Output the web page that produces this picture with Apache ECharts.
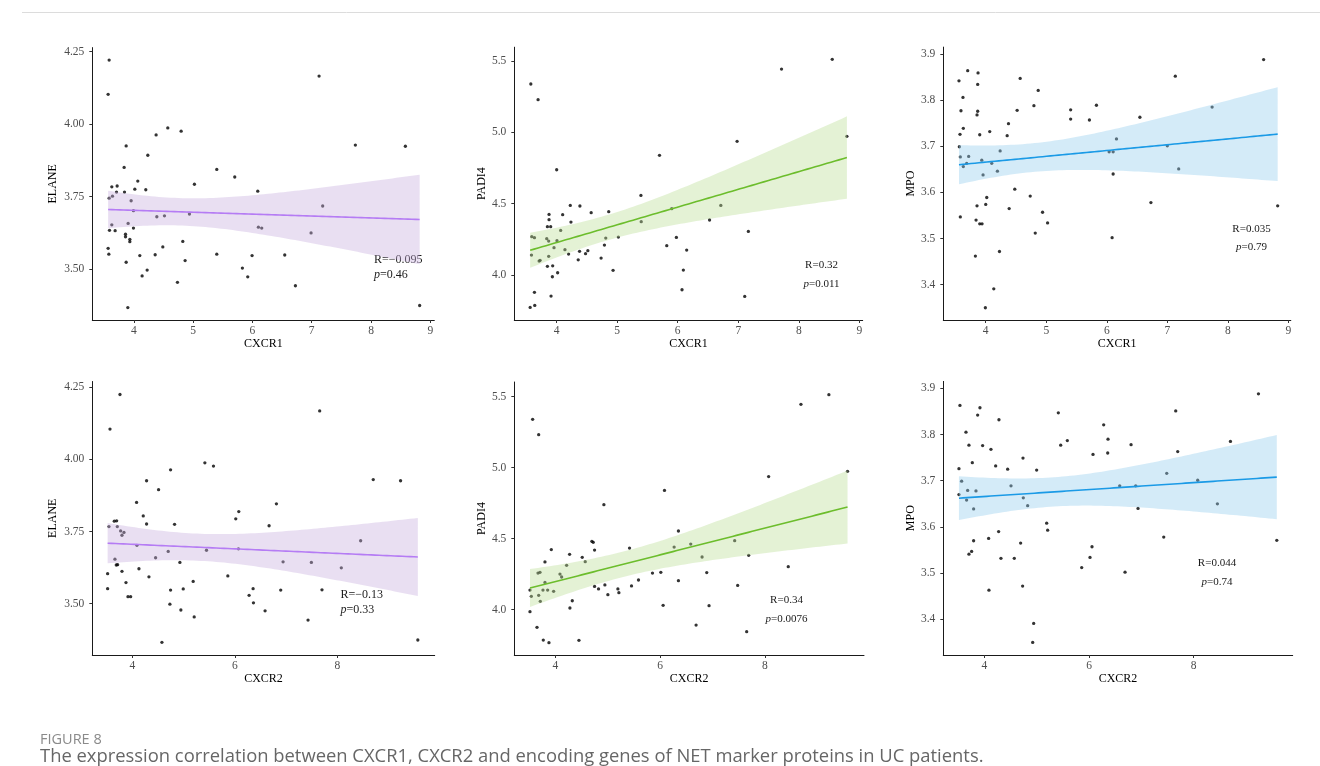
<!DOCTYPE html>
<html><head><meta charset="utf-8">
<script src="https://cdn.jsdelivr.net/npm/echarts@6/dist/echarts.min.js"></script>
<style>html,body{margin:0;padding:0;background:#fff}#c{width:1320px;height:766px}</style>
</head><body><div id="c"></div>
<script>
// ---------- data ----------
const elaneVsCxcr1 = [[3.584,4.221],[3.567,4.103],[4.573,3.987],[4.798,3.976],[4.376,3.963],[3.871,3.925],[4.236,3.893],[3.837,3.851],[5.399,3.844],[5.702,3.818],[4.067,3.804],[5.022,3.793],[3.629,3.784],[3.719,3.787],[3.708,3.766],[3.843,3.766],[4.017,3.776],[4.202,3.774],[6.090,3.769],[3.584,3.745],[3.640,3.752],[3.955,3.736],[3.994,3.702],[4.388,3.681],[4.517,3.684],[4.938,3.690],[3.629,3.653],[3.904,3.658],[3.994,3.642],[6.101,3.645],[6.157,3.642],[3.590,3.634],[3.685,3.633],[3.860,3.621],[3.860,3.612],[3.933,3.603],[3.933,3.595],[4.826,3.596],[3.567,3.572],[4.489,3.577],[3.579,3.552],[4.101,3.547],[4.360,3.550],[5.399,3.552],[5.994,3.547],[3.871,3.524],[4.865,3.530],[4.225,3.497],[4.140,3.477],[5.831,3.504],[5.921,3.474],[4.736,3.455],[3.899,3.368],[7.124,4.166],[7.736,3.928],[8.579,3.924],[7.185,3.718],[6.989,3.625],[6.545,3.549],[6.725,3.443],[8.820,3.375]];
const padi4VsCxcr1 = [[3.573,5.339],[3.693,5.229],[4.000,4.738],[5.699,4.839],[5.392,4.558],[4.225,4.488],[4.384,4.484],[3.874,4.425],[4.099,4.423],[4.570,4.437],[4.860,4.444],[3.874,4.388],[4.236,4.371],[5.397,4.374],[3.847,4.339],[3.901,4.339],[4.066,4.313],[3.589,4.269],[3.633,4.262],[5.019,4.266],[3.836,4.255],[3.868,4.238],[4.005,4.241],[4.811,4.259],[5.901,4.465],[3.956,4.192],[4.137,4.178],[4.789,4.210],[5.819,4.206],[5.978,4.264],[3.584,4.140],[4.197,4.147],[4.378,4.166],[4.515,4.171],[4.477,4.150],[3.710,4.098],[3.726,4.103],[3.868,4.131],[4.356,4.107],[4.734,4.119],[3.847,4.061],[3.934,4.065],[3.929,3.988],[4.016,4.016],[4.932,4.033],[3.633,3.879],[3.907,3.853],[3.562,3.773],[3.638,3.787],[7.715,5.444],[8.553,5.512],[6.981,4.937],[8.795,4.972],[6.712,4.488],[6.526,4.386],[7.167,4.306],[6.148,4.175],[6.093,4.035],[6.071,3.897],[7.107,3.850]];
const mpoVsCxcr1 = [[3.702,3.864],[3.873,3.859],[3.558,3.842],[3.867,3.834],[4.569,3.847],[4.867,3.821],[3.624,3.806],[4.796,3.788],[3.591,3.777],[3.867,3.776],[4.519,3.778],[5.403,3.779],[3.856,3.768],[5.403,3.759],[5.713,3.757],[3.630,3.739],[4.376,3.749],[3.575,3.726],[3.901,3.725],[4.066,3.732],[4.354,3.723],[3.564,3.699],[4.238,3.690],[3.580,3.677],[3.718,3.678],[3.934,3.670],[3.685,3.663],[3.630,3.656],[4.099,3.663],[4.193,3.646],[3.956,3.638],[4.480,3.607],[4.017,3.589],[4.735,3.592],[3.856,3.571],[4.000,3.574],[4.387,3.565],[4.939,3.557],[3.580,3.547],[3.840,3.540],[3.901,3.532],[3.939,3.532],[5.022,3.534],[4.818,3.512],[4.227,3.472],[3.829,3.462],[4.133,3.391],[3.994,3.350],[5.829,3.789],[8.591,3.888],[7.132,3.852],[6.547,3.763],[7.740,3.785],[6.160,3.716],[6.039,3.688],[6.105,3.688],[7.000,3.701],[7.188,3.651],[6.105,3.640],[6.729,3.578],[8.823,3.571],[6.088,3.502]];
const elaneVsCxcr2 = [[3.760,4.225],[3.565,4.105],[5.416,3.988],[5.584,3.977],[4.747,3.964],[4.279,3.926],[4.513,3.895],[4.084,3.851],[4.214,3.804],[4.279,3.776],[4.825,3.775],[6.078,3.819],[6.019,3.794],[3.649,3.786],[3.695,3.787],[3.545,3.767],[3.708,3.767],[3.773,3.752],[3.838,3.747],[3.799,3.737],[4.091,3.702],[4.701,3.681],[5.448,3.685],[6.071,3.690],[4.455,3.659],[3.662,3.654],[3.688,3.634],[3.714,3.635],[4.929,3.643],[4.130,3.621],[3.799,3.612],[3.519,3.604],[4.325,3.593],[5.864,3.596],[5.188,3.577],[3.877,3.573],[3.519,3.552],[4.747,3.547],[4.994,3.551],[6.357,3.552],[3.916,3.524],[3.968,3.524],[6.279,3.529],[6.364,3.503],[4.734,3.498],[4.948,3.478],[5.208,3.454],[6.591,3.475],[4.578,3.366],[6.669,3.770],[7.656,4.168],[8.701,3.930],[9.234,3.926],[6.812,3.846],[8.455,3.718],[6.942,3.645],[7.494,3.643],[8.078,3.624],[6.896,3.547],[7.701,3.548],[7.429,3.443],[9.571,3.374]];
const padi4VsCxcr2 = [[3.568,5.340],[3.683,5.232],[4.927,4.739],[6.083,4.840],[6.349,4.554],[5.416,4.434],[3.924,4.423],[4.749,4.420],[4.724,4.474],[4.698,4.481],[4.273,4.390],[4.514,4.369],[4.571,4.338],[4.216,4.312],[3.803,4.336],[3.708,4.263],[3.670,4.258],[4.089,4.251],[4.121,4.230],[6.267,4.441],[5.854,4.258],[6.013,4.263],[5.587,4.209],[3.803,4.192],[3.517,4.138],[3.765,4.138],[3.854,4.138],[3.968,4.129],[3.543,4.094],[3.683,4.101],[4.749,4.164],[4.946,4.174],[4.825,4.146],[5.194,4.146],[5.213,4.120],[5.003,4.106],[5.454,4.167],[3.714,4.059],[4.324,4.063],[3.517,3.986],[4.279,4.012],[6.057,4.031],[3.651,3.876],[4.451,3.784],[3.771,3.786],[3.879,3.768],[6.349,4.204],[9.219,5.514],[8.686,5.446],[9.575,4.974],[8.070,4.937],[6.584,4.462],[7.422,4.486],[6.800,4.371],[7.689,4.383],[8.444,4.303],[6.889,4.261],[7.479,4.171],[6.933,4.028],[6.686,3.892],[7.651,3.845]];
const mpoVsCxcr2 = [[3.535,3.863],[3.917,3.858],[3.873,3.842],[4.280,3.832],[5.414,3.847],[3.650,3.805],[5.586,3.787],[5.459,3.777],[3.707,3.777],[3.968,3.776],[4.127,3.768],[6.076,3.757],[3.771,3.739],[4.739,3.749],[4.217,3.732],[3.516,3.726],[4.446,3.725],[5.000,3.723],[3.567,3.699],[3.516,3.670],[3.682,3.679],[3.841,3.678],[4.510,3.689],[3.662,3.658],[4.745,3.663],[4.828,3.646],[3.796,3.639],[5.191,3.608],[5.210,3.593],[4.083,3.575],[4.274,3.590],[3.796,3.570],[4.694,3.565],[3.707,3.541],[3.758,3.547],[4.318,3.532],[4.573,3.532],[6.057,3.557],[6.019,3.534],[5.860,3.512],[4.732,3.472],[4.089,3.463],[4.943,3.391],[4.924,3.350],[9.236,3.888],[7.656,3.851],[6.280,3.821],[6.363,3.790],[6.803,3.778],[6.357,3.760],[7.694,3.763],[8.701,3.785],[7.484,3.716],[8.076,3.701],[6.586,3.689],[6.892,3.689],[6.936,3.640],[8.452,3.650],[7.427,3.578],[9.586,3.571],[6.688,3.502]];

const xTicksRow1 = [4, 5, 6, 7, 8, 9];
const xTicksRow2 = [4, 6, 8];
const yTicksElane = [3.50, 3.75, 4.00, 4.25];
const yTicksPadi4 = [4.0, 4.5, 5.0, 5.5];
const yTicksMpo = [3.4, 3.5, 3.6, 3.7, 3.8, 3.9];
const xNames = ['CXCR1', 'CXCR1', 'CXCR1', 'CXCR2', 'CXCR2', 'CXCR2'];
const yNames = ['ELANE', 'PADI4', 'MPO', 'ELANE', 'PADI4', 'MPO'];
const rLabels = ['R=\u22120.095', 'R=0.32', 'R=0.035', 'R=\u22120.13', 'R=0.34', 'R=0.044'];
const pLabels = ['=0.46', '=0.011', '=0.79', '=0.33', '=0.0076', '=0.74'];

// ---------- layout / style ----------
const SERIF = '"Liberation Serif", "Times New Roman", serif';
const SANS = '"Open Sans", "Noto Sans", sans-serif';
const panels = [
  {data: elaneVsCxcr1, left: 92.3, top: 47.6, w: 342, h: 272.4, xr: [3.30, 9.067], yr: [3.325, 4.264], xt: xTicksRow1, yt: yTicksElane, dec: 2, gap: 33, col: 'purple'},
  {data: padi4VsCxcr1, left: 514.3, top: 47.2, w: 348.4, h: 272.8, xr: [3.30, 9.056], yr: [3.685, 5.597], xt: xTicksRow1, yt: yTicksPadi4, dec: 1, gap: 25, col: 'green'},
  {data: mpoVsCxcr1, left: 943.3, top: 47.1, w: 347.5, h: 272.9, xr: [3.299, 9.04], yr: [3.3235, 3.915], xt: xTicksRow1, yt: yTicksMpo, dec: 1, gap: 25.5, col: 'blue'},
  {data: elaneVsCxcr2, left: 92.3, top: 381.5, w: 342.4, h: 273.5, xr: [3.22, 9.90], yr: [3.322, 4.270], xt: xTicksRow2, yt: yTicksElane, dec: 2, gap: 33, col: 'purple'},
  {data: padi4VsCxcr2, left: 514.3, top: 382, w: 349.7, h: 273, xr: [3.218, 9.889], yr: [3.681, 5.603], xt: xTicksRow2, yt: yTicksPadi4, dec: 1, gap: 26, col: 'green'},
  {data: mpoVsCxcr2, left: 943.3, top: 381.4, w: 349.4, h: 273.6, xr: [3.217, 9.89], yr: [3.3227, 3.915], xt: xTicksRow2, yt: yTicksMpo, dec: 1, gap: 25.5, col: 'blue'}
];
const colors = {
  purple: {line: '#b57cf4', band: 'rgb(200,175,222)'},
  green:  {line: '#6cbd2c', band: 'rgb(188,222,150)'},
  blue:   {line: '#1a9ae6', band: 'rgb(148,204,238)'}
};
const statPos = [
  {x: 374, y1: 260, y2: 275, align: 'left', fs: 12},
  {x: 821.5, y1: 265.5, y2: 284, align: 'center', fs: 11},
  {x: 1251.5, y1: 229, y2: 247.5, align: 'center', fs: 11},
  {x: 340.5, y1: 595, y2: 609.5, align: 'left', fs: 12},
  {x: 786.5, y1: 600, y2: 619, align: 'center', fs: 11},
  {x: 1217, y1: 563.5, y2: 582, align: 'center', fs: 11}
];

// ---------- linear fit with 95% confidence band (as geom_smooth(method = "lm")) ----------
function lmFit(pts) {
  const n = pts.length;
  let sx = 0, sy = 0;
  pts.forEach(p => { sx += p[0]; sy += p[1]; });
  const mx = sx / n, my = sy / n;
  let sxx = 0, sxy = 0;
  pts.forEach(p => { sxx += (p[0] - mx) ** 2; sxy += (p[0] - mx) * (p[1] - my); });
  const b = sxy / sxx, a = my - b * mx;
  let sse = 0;
  pts.forEach(p => { sse += (p[1] - a - b * p[0]) ** 2; });
  const s = Math.sqrt(sse / (n - 2));
  const t = 2.0;
  const xs = pts.map(p => p[0]);
  const x0 = Math.min(...xs), x1 = Math.max(...xs);
  const line = [], band = [];
  const K = 80;
  for (let i = 0; i <= K; i++) {
    const x = x0 + (x1 - x0) * i / K;
    const yh = a + b * x;
    const se = s * Math.sqrt(1 / n + (x - mx) ** 2 / sxx);
    line.push([x, yh]);
    band.push([x, yh - t * se, yh + t * se]);
  }
  return {line, band};
}

const grid = [], xAxis = [], yAxis = [], series = [], graphic = [];
panels.forEach((p, i) => {
  grid.push({left: p.left, top: p.top, width: p.w, height: p.h, containLabel: false, outerBoundsMode: 'none'});
  const axisCommon = {
    axisLine: {show: true, lineStyle: {color: '#1a1a1a', width: 1}},
    axisTick: {show: true, length: 3, lineStyle: {color: '#333', width: 1}},
    splitLine: {show: false},
    nameLocation: 'middle',
    nameTextStyle: {fontFamily: SERIF, fontSize: 12, color: '#000'}
  };
  xAxis.push(Object.assign({}, axisCommon, {
    type: 'value', gridIndex: i, min: p.xr[0], max: p.xr[1], name: xNames[i], nameGap: 18,
    axisTick: Object.assign({}, axisCommon.axisTick, {customValues: p.xt}),
    axisLabel: {customValues: p.xt, margin: 5, fontFamily: SERIF, fontSize: 11.5, color: '#4d4d4d', formatter: v => String(Math.round(v))}
  }));
  yAxis.push(Object.assign({}, axisCommon, {
    type: 'value', gridIndex: i, min: p.yr[0], max: p.yr[1], name: yNames[i], nameGap: p.gap,
    axisTick: Object.assign({}, axisCommon.axisTick, {customValues: p.yt}),
    axisLabel: {customValues: p.yt, margin: 8, fontFamily: SERIF, fontSize: 11.5, color: '#4d4d4d', formatter: v => v.toFixed(p.dec)}
  }));
  const fit = lmFit(p.data);
  const c = colors[p.col];
  series.push({
    type: 'scatter', xAxisIndex: i, yAxisIndex: i, data: p.data, symbolSize: 3.3,
    itemStyle: {color: '#000'}, silent: true, z: 2
  });
  series.push({
    type: 'custom', xAxisIndex: i, yAxisIndex: i, z: 3, silent: true,
    data: [[fit.band[0][0], fit.band[0][1]]],
    renderItem: (params, api) => {
      const up = fit.band.map(b => api.coord([b[0], b[2]]));
      const lo = fit.band.slice().reverse().map(b => api.coord([b[0], b[1]]));
      return {type: 'polygon', shape: {points: up.concat(lo)}, style: {fill: c.band, opacity: 0.4}};
    }
  });
  series.push({
    type: 'line', xAxisIndex: i, yAxisIndex: i, data: fit.line, showSymbol: false, symbol: 'none',
    lineStyle: {color: c.line, width: 1.6}, silent: true, z: 4
  });
  const sp = statPos[i];
  graphic.push({type: 'text', x: sp.x, y: sp.y1, silent: true,
    style: {text: rLabels[i], font: sp.fs + 'px ' + SERIF, fill: '#1a1a1a', align: sp.align, textAlign: sp.align, verticalAlign: 'middle', textVerticalAlign: 'middle'}});
  graphic.push({type: 'text', x: sp.x, y: sp.y2, silent: true,
    style: {text: '{i|p}' + pLabels[i], font: sp.fs + 'px ' + SERIF, fill: '#1a1a1a', align: sp.align, textAlign: sp.align, verticalAlign: 'middle', textVerticalAlign: 'middle',
      rich: {i: {fontStyle: 'italic', fontFamily: SERIF, fontSize: sp.fs, fill: '#1a1a1a'}}}});
});

graphic.push({type: 'line', silent: true, shape: {x1: 22, y1: 12.5, x2: 1320, y2: 12.5}, style: {stroke: '#dcdcdc', lineWidth: 1}});
graphic.push({type: 'text', x: 40, y: 740, silent: true,
  style: {text: 'FIGURE 8', font: '14.5px ' + SANS, fill: '#8a8a8a', verticalAlign: 'middle', textVerticalAlign: 'middle'}});
graphic.push({type: 'text', x: 40, y: 757, silent: true,
  style: {text: 'The expression correlation between CXCR1, CXCR2 and encoding genes of NET marker proteins in UC patients.', font: '18.4px ' + SANS, fill: '#666', verticalAlign: 'middle', textVerticalAlign: 'middle'}});

const chart = echarts.init(document.getElementById('c'), null, {renderer: 'canvas'});
chart.setOption({animation: false, backgroundColor: '#fff', grid, xAxis, yAxis, series, graphic});
</script></body></html>
